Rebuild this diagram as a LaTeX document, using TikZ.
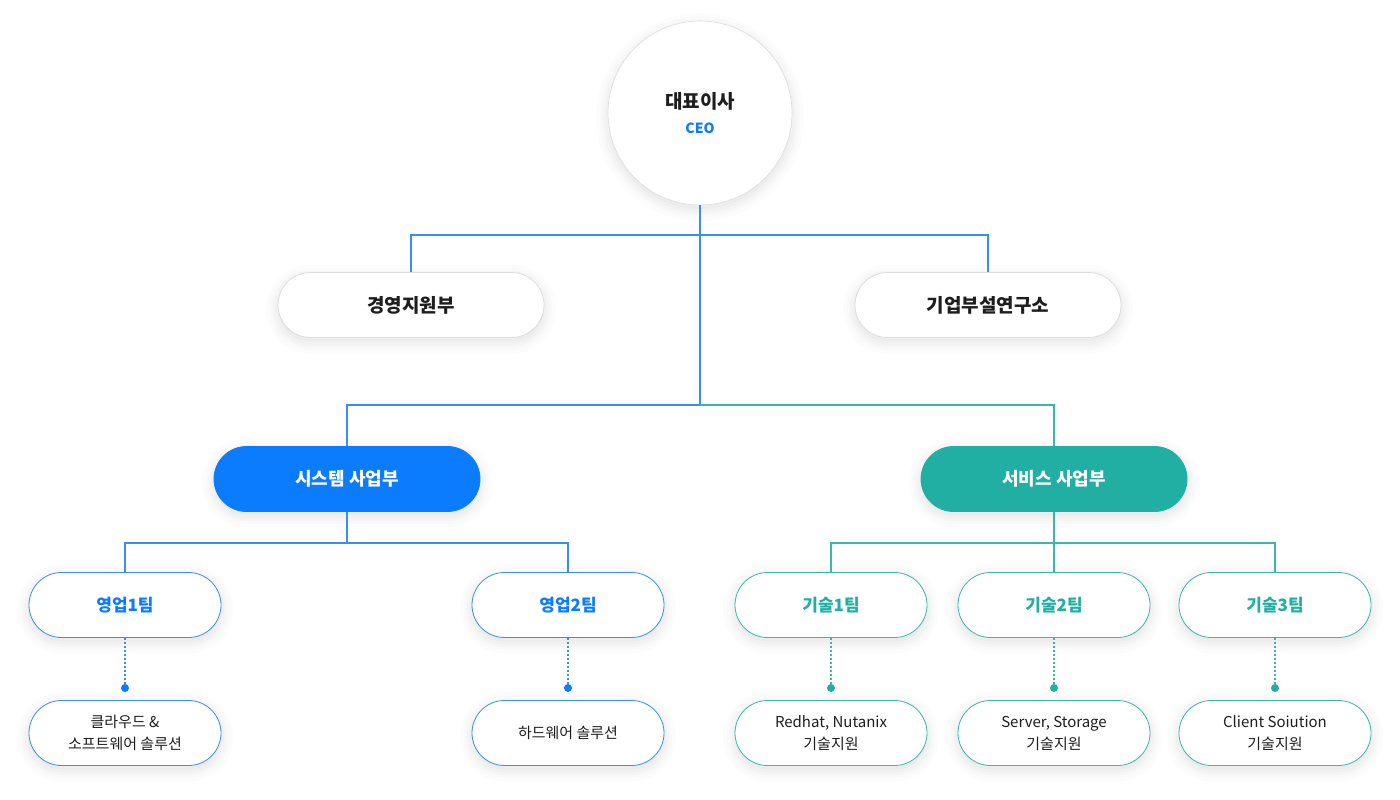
\documentclass[tikz,border=0pt]{standalone}
\usepackage{fontspec}
\setmainfont{Noto Sans CJK KR}
\definecolor{cblue}{HTML}{0C7CFF}
\definecolor{cteal}{HTML}{22AFA3}
\definecolor{cline}{HTML}{3A8EF0}
\definecolor{ctealline}{HTML}{3DB5AB}
\definecolor{ctext}{HTML}{1E1E1E}
\definecolor{cgray}{HTML}{DDDDDD}
\tikzset{
  shad/.style={
    preaction={draw=black, draw opacity=0.010, line width=24pt, transform canvas={yshift=-4pt}},
    preaction={draw=black, draw opacity=0.012, line width=17pt, transform canvas={yshift=-4pt}},
    preaction={draw=black, draw opacity=0.014, line width=11pt, transform canvas={yshift=-4pt}},
    preaction={draw=black, draw opacity=0.016, line width=6pt, transform canvas={yshift=-4pt}},
    preaction={fill=black, fill opacity=0.02, transform canvas={yshift=-4pt}}},
  pill/.style={shad, rectangle, rounded corners=32.5pt, minimum height=65pt, inner sep=0pt, align=center, line width=0.8pt},
  topbox/.style={pill, minimum width=266pt, draw=cgray, fill=white, text=ctext, font=\fontsize{19}{22}\selectfont\bfseries},
  divbox/.style={pill, minimum width=266pt, text=white, font=\fontsize{18}{22}\selectfont\bfseries},
  teambox/.style={pill, minimum width=192pt, fill=white, font=\fontsize{17}{20}\selectfont\bfseries},
  descbox/.style={pill, minimum width=192pt, fill=white, text=ctext, font=\fontsize{15}{22}\selectfont},
  bl/.style={draw=cline, line width=1.5pt},
  tl/.style={draw=ctealline, line width=1.5pt},
  dots/.style={dash pattern=on 2pt off 2pt, line width=1.5pt},
}
\begin{document}
\begin{tikzpicture}[x=1pt,y=-1pt]
\useasboundingbox[fill=white] (0,0) rectangle (1400,800);
% coordinates
\coordinate (j1) at (700,235);
\coordinate (j2) at (700,405);
\coordinate (s1) at (347,543);
\coordinate (v1) at (1054,543);
\coordinate (d1) at (125,688);
\coordinate (d2) at (568,688);
\coordinate (d3) at (831,688);
\coordinate (d4) at (1054,688);
\coordinate (d5) at (1275,688);
% nodes
\node[circle, minimum size=184pt, inner sep=0pt, draw=cgray, line width=0.6pt, fill=white, shad, align=center] (ceo) at (700,113)
  {{\fontsize{19}{24}\selectfont\bfseries\color{ctext}대표이사}\\[12pt]{\fontsize{14}{16}\selectfont\bfseries\color{cblue}CEO}};
\node[topbox] (mgmt) at (411,305) {경영지원부};
\node[topbox] (lab) at (988,305) {기업부설연구소};
\node[divbox, fill=cblue, draw=cblue] (sys) at (347,479) {시스템 사업부};
\node[divbox, fill=cteal, draw=cteal] (svc) at (1054,479) {서비스 사업부};
\node[teambox, draw=cline, text=cblue] (sa1) at (125,605) {영업1팀};
\node[teambox, draw=cline, text=cblue] (sa2) at (568,605) {영업2팀};
\node[teambox, draw=ctealline, text=cteal] (te1) at (831,605) {기술1팀};
\node[teambox, draw=ctealline, text=cteal] (te2) at (1054,605) {기술2팀};
\node[teambox, draw=ctealline, text=cteal] (te3) at (1275,605) {기술3팀};
\node[descbox, draw=cline] (b1) at (125,733) {클라우드 \&\\소프트웨어 솔루션};
\node[descbox, draw=cline] (b2) at (568,733) {하드웨어 솔루션};
\node[descbox, draw=ctealline] (b3) at (831,733) {Redhat, Nutanix\\기술지원};
\node[descbox, draw=ctealline] (b4) at (1054,733) {Server, Storage\\기술지원};
\node[descbox, draw=ctealline] (b5) at (1275,733) {Client Soiution\\기술지원};
% connectors
\draw[bl] (mgmt.north) |- (j1) -| (lab.north);
\draw[bl] (ceo.south) -- (j2);
\draw[bl] (j2) -| (sys.north);
\draw[tl] (j2) -| (svc.north);
\draw[bl] (sys.south) -- (s1);
\draw[bl] (sa1.north) |- (s1) -| (sa2.north);
\draw[tl] (svc.south) -- (te2.north);
\draw[tl] (te1.north) |- (v1) -| (te3.north);
\draw[bl, dots] (sa1.south) -- (d1);
\draw[bl, dots] (sa2.south) -- (d2);
\draw[tl, dots] (te1.south) -- (d3);
\draw[tl, dots] (te2.south) -- (d4);
\draw[tl, dots] (te3.south) -- (d5);
\fill[cblue] (d1) circle (4);
\fill[cblue] (d2) circle (4);
\fill[cteal] (d3) circle (4);
\fill[cteal] (d4) circle (4);
\fill[cteal] (d5) circle (4);
\end{tikzpicture}
\end{document}
